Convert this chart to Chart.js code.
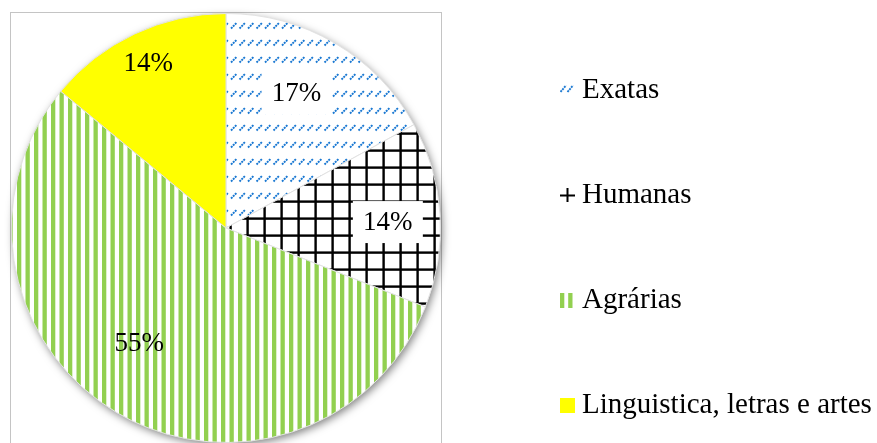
<!DOCTYPE html>
<html>
<head>
<meta charset="utf-8">
<script src="https://cdn.jsdelivr.net/npm/chart.js@4.4.1/dist/chart.umd.min.js"></script>
<style>
  html, body { margin: 0; padding: 0; background: #fff; }
  #wrap { position: relative; width: 877px; height: 443px; overflow: hidden; }
  #c { position: absolute; left: 0; top: 0; }
  .lg { position: absolute; left: 582px; font-family: "Liberation Serif", "Times New Roman", serif; font-size: 29px; line-height: 29px; color: #000; white-space: nowrap; }
  .mk { position: absolute; left: 560px; width: 15px; height: 15px; }
</style>
</head>
<body>
<div id="wrap">
  <canvas id="c" width="877" height="443"></canvas>
</div>
<script>
// ---- data ----
const categories = ["Exatas", "Humanas", "Agrárias", "Linguistica, letras e artes"];
const percentValues = [17, 14, 55, 14];
const valueLabels = ["17%", "14%", "55%", "14%"];

// ---- styling helpers ----
const TILE = 17;
function makeTile(drawFn) {
  const t = document.createElement('canvas');
  t.width = TILE; t.height = TILE;
  const g = t.getContext('2d');
  g.fillStyle = '#ffffff';
  g.fillRect(0, 0, TILE, TILE);
  drawFn(g);
  return t;
}
const ctxMain = document.getElementById('c').getContext('2d');

const tileExatas = makeTile(g => {
  g.strokeStyle = '#1a78d2';
  g.lineWidth = 1.9;
  g.setLineDash([2, 0.8]);
  for (const ox of [0, 8.5]) {
    g.beginPath();
    g.moveTo(ox + 1.5, 11.5);
    g.lineTo(ox + 7, 6);
    g.stroke();
  }
});
const tileHumanas = makeTile(g => {
  g.fillStyle = '#000000';
  g.fillRect(8.4, 0, 2.4, TILE);
  g.fillRect(0, 13.4, TILE, 2.4);
});
const tileAgrarias = makeTile(g => {
  g.fillStyle = '#92d050';
  g.fillRect(0, 0, 4.3, TILE);
  g.fillRect(8.5, 0, 4.3, TILE);
});

const fills = [
  ctxMain.createPattern(tileExatas, 'repeat'),
  ctxMain.createPattern(tileHumanas, 'repeat'),
  ctxMain.createPattern(tileAgrarias, 'repeat'),
  '#ffff00'
];

// label placement (styling): radial fraction, angle nudge (deg), white box
const labelFrac = [0.71, 0.755, 0.67, 0.85];
const labelNudge = [-3, 1.5, 6.5, 0];
const labelBox = [true, true, false, false];

const frameAndShadow = {
  id: 'frameAndShadow',
  beforeDatasetsDraw(chart) {
    const ctx = chart.ctx;
    const arc = chart.getDatasetMeta(0).data[0];
    if (!arc) return;
    ctx.save();
    ctx.strokeStyle = '#c4c4c4';
    ctx.lineWidth = 1;
    ctx.strokeRect(10.5, 12.5, 431, 445);
    ctx.restore();
    ctx.save();
    ctx.shadowColor = 'rgba(0,0,0,0.5)';
    ctx.shadowBlur = 9;
    ctx.shadowOffsetX = 2;
    ctx.shadowOffsetY = 3;
    ctx.fillStyle = '#ffffff';
    ctx.beginPath();
    ctx.arc(arc.x, arc.y, arc.outerRadius - 0.5, 0, Math.PI * 2);
    ctx.fill();
    ctx.restore();
  }
};

const pctLabels = {
  id: 'pctLabels',
  afterDatasetsDraw(chart) {
    const ctx = chart.ctx;
    const meta = chart.getDatasetMeta(0);
    ctx.save();
    ctx.font = '27px "Liberation Serif", "Times New Roman", serif';
    ctx.textAlign = 'center';
    ctx.textBaseline = 'middle';
    meta.data.forEach((arc, i) => {
      const mid = (arc.startAngle + arc.endAngle) / 2 + labelNudge[i] * Math.PI / 180;
      const r = arc.outerRadius * labelFrac[i];
      const x = arc.x + Math.cos(mid) * r;
      const y = arc.y + Math.sin(mid) * r;
      if (labelBox[i]) {
        ctx.fillStyle = '#ffffff';
        ctx.fillRect(x - 35, y - 21, 70, 42);
      }
      ctx.fillStyle = '#000000';
      ctx.fillText(valueLabels[i], x, y + 1);
    });
    ctx.restore();
  }
};

new Chart(document.getElementById('c'), {
  type: 'pie',
  data: {
    labels: categories,
    datasets: [{
      data: percentValues,
      backgroundColor: fills,
      borderColor: '#e2e2e2',
      borderWidth: 1,
      hoverOffset: 0,
      offset: 0
    }]
  },
  options: {
    responsive: false,
    animation: false,
    events: [],
    devicePixelRatio: 1,
    layout: { padding: { left: 11, top: 13, right: 436, bottom: 0 } },
    plugins: {
      legend: { display: false },
      tooltip: { enabled: false }
    }
  },
  plugins: [frameAndShadow, pctLabels]
});

// ---- HTML legend (real text) ----
const wrap = document.getElementById('wrap');
const baselines = [98, 203, 308, 413];
function markerDraw(i, g) {
  if (i === 0) {
    g.strokeStyle = '#1a78d2';
    g.lineWidth = 1.9;
    g.setLineDash([2, 0.8]);
    g.beginPath(); g.moveTo(0.5, 9); g.lineTo(6, 2.5); g.stroke();
    g.beginPath(); g.moveTo(7.5, 9); g.lineTo(13, 2.5); g.stroke();
  } else if (i === 1) {
    g.fillStyle = '#000';
    g.fillRect(6.5, 0, 2, 14);
    g.fillRect(0, 6.5, 15, 2);
  } else if (i === 2) {
    g.fillStyle = '#92d050';
    g.fillRect(0, 0, 4.3, 15);
    g.fillRect(8.2, 0, 4.3, 15);
  } else {
    g.fillStyle = '#ffff00';
    g.fillRect(0, 0, 15, 15);
  }
}
categories.forEach((name, i) => {
  const mk = document.createElement('canvas');
  mk.className = 'mk';
  mk.width = 15; mk.height = 15;
  mk.style.top = (baselines[i] - 15) + 'px';
  markerDraw(i, mk.getContext('2d'));
  wrap.appendChild(mk);
  const d = document.createElement('div');
  d.className = 'lg';
  d.textContent = name;
  d.style.top = (baselines[i] - 24.3) + 'px';
  wrap.appendChild(d);
});
</script>
</body>
</html>
